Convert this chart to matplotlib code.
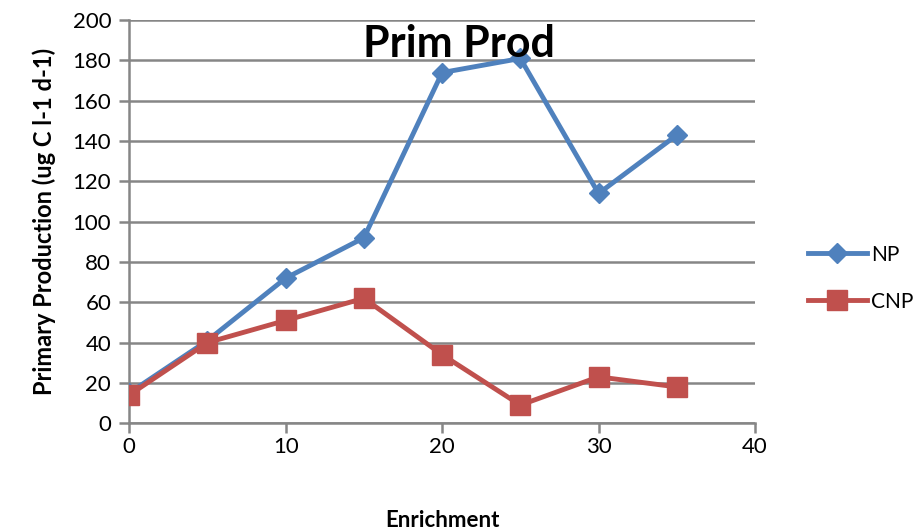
import matplotlib
matplotlib.use('Agg')
import matplotlib.pyplot as plt

# data
enrichment = [0, 5, 10, 15, 20, 25, 30, 35]
np_vals = [15, 41, 72, 92, 174, 181, 114, 143]
cnp_vals = [14, 40, 51, 62, 34, 9, 23, 18]
x_ticks = [0, 10, 20, 30, 40]
y_ticks = list(range(0, 201, 20))

plt.rcParams['font.family'] = ['Lato', 'DejaVu Sans']

fig = plt.figure(figsize=(9.23, 5.31), dpi=100)
ax = fig.add_axes([0.14, 0.203, 0.678, 0.759])

grid_col = '#868686'
ax.plot(enrichment, np_vals, color='#4F81BD', lw=3.5, marker='D', ms=10,
        label='NP', zorder=3)
ax.plot(enrichment, cnp_vals, color='#C0504D', lw=3.5, marker='s', ms=14.5,
        label='CNP', zorder=4)

ax.set_xlim(0, 40)
ax.set_ylim(0, 200)
ax.set_xticks(x_ticks)
ax.set_yticks(y_ticks)
ax.yaxis.grid(True, color=grid_col, lw=1.8)
ax.set_axisbelow(True)
for s in ['top', 'right']:
    ax.spines[s].set_visible(False)
for s in ['left', 'bottom']:
    ax.spines[s].set_color(grid_col)
    ax.spines[s].set_linewidth(1.8)
ax.tick_params(axis='both', colors=grid_col, width=1.8, length=7,
               labelsize=16, labelcolor='black', pad=6)
ax.tick_params(axis='x', pad=3)

ax.text(0.527, 0.99, 'Prim Prod', transform=ax.transAxes, ha='center',
        va='top', fontsize=31, fontweight='bold')
ax.set_xlabel('Enrichment', fontsize=16, fontweight='bold', labelpad=38)
ax.set_ylabel('Primary Production (ug C l-1 d-1)', fontsize=17,
              fontweight='bold', labelpad=12)

ax.legend(loc='center left', bbox_to_anchor=(1.055, 0.36), frameon=False,
          fontsize=15, handlelength=2.8, labelspacing=1.3, handletextpad=0.2)

fig.savefig('out.png', dpi=100)
